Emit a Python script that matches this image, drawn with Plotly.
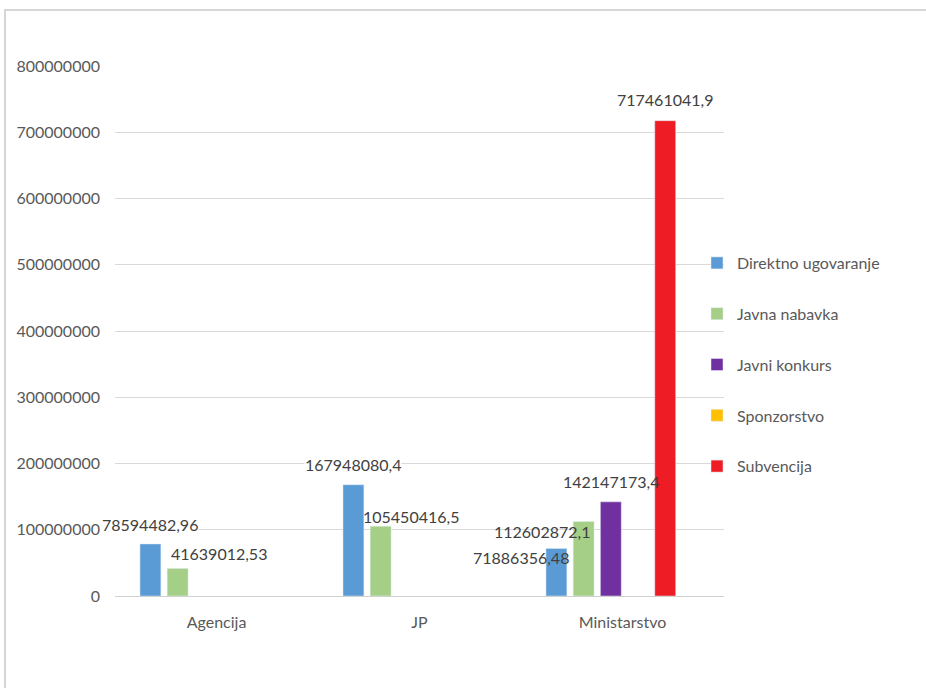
import plotly.graph_objects as go

categories = ["Agencija", "JP", "Ministarstvo"]
series_names = ["Direktno ugovaranje", "Javna nabavka", "Javni konkurs", "Sponzorstvo", "Subvencija"]
direktno = [78594482.96, 167948080.4, 71886356.48]
javna_nabavka = [41639012.53, 105450416.5, 112602872.1]
javni_konkurs = [None, None, 142147173.4]
sponzorstvo = [None, None, None]
subvencija = [None, None, 717461041.9]
y_ticks = [0, 100000000, 200000000, 300000000, 400000000, 500000000, 600000000, 700000000, 800000000]

series_values = [direktno, javna_nabavka, javni_konkurs, sponzorstvo, subvencija]
colors = ["#5B9BD5", "#A5CF86", "#7030A0", "#FFC000", "#EE1C25"]

# bar geometry (style)
first_offset = -0.377
period = 0.134
bar_w = 0.103

# label shifts in px: (series, category) -> (dx, dy, bg)
label_style = {
    (0, 0): (0, 19, "white"),
    (1, 0): (41, 15, "rgba(0,0,0,0)"),
    (0, 1): (0, 20, "white"),
    (1, 1): (30, 10, "rgba(0,0,0,0)"),
    (0, 2): (-35, -9, "rgba(0,0,0,0)"),
    (1, 2): (-42, -10, "rgba(0,0,0,0)"),
    (2, 2): (0, 20, "rgba(0,0,0,0)"),
    (4, 2): (0, 21, "rgba(0,0,0,0)"),
}

FONT = "Lato, Carlito, Calibri, sans-serif"
fig = go.Figure()
annotations = []
for k, (name, vals, col) in enumerate(zip(series_names, series_values, colors)):
    off = first_offset + k * period
    fig.add_trace(go.Bar(
        x=categories, y=vals, name=name, marker_color=col,
        offset=off, width=bar_w, legendgroup=name,
    ))
    for i, v in enumerate(vals):
        if v is None:
            continue
        dx, dy, bg = label_style.get((k, i), (0, 18, "rgba(0,0,0,0)"))
        annotations.append(dict(
            x=i + off + bar_w / 2, y=v, xref="x", yref="y",
            text=str(v).replace(".", ","), showarrow=False,
            xanchor="center", yanchor="middle", xshift=dx, yshift=dy,
            font=dict(family=FONT, size=16, color="#404040"),
            bgcolor=bg, borderpad=0,
        ))

L, R, T, B = 115, 202, 66, 92
W, H = 926, 688
pw, ph = W - L - R, H - T - B

def px_x(p):
    return (p - L) / pw

def px_y(p):
    return (H - B - p) / ph

fig.update_layout(
    width=W, height=H,
    margin=dict(l=L, r=R, t=T, b=B, pad=0),
    paper_bgcolor="white", plot_bgcolor="white",
    barmode="overlay",
    font=dict(family=FONT, size=16, color="#595959"),
    xaxis=dict(
        type="category", range=[-0.5, 2.5], showgrid=False,
        showline=True, linecolor="#D0D0D0", linewidth=1,
        ticks="", tickfont=dict(family=FONT, size=16, color="#595959"),
        ticklabelstandoff=12, fixedrange=True,
    ),
    yaxis=dict(
        range=[0, 800000000], tickvals=y_ticks,
        ticktext=[str(t) for t in y_ticks],
        showgrid=True, gridcolor="#D9D9D9", gridwidth=1,
        zeroline=False, showline=False, ticks="",
        tickfont=dict(family=FONT, size=16, color="#595959"),
        ticklabelstandoff=14, fixedrange=True,
    ),
    legend=dict(
        x=px_x(697), y=px_y(246), xanchor="left", yanchor="top",
        bgcolor="rgba(0,0,0,0)", traceorder="grouped", tracegroupgap=27,
        font=dict(family=FONT, size=16, color="#595959"),
    ),
    annotations=annotations,
    shapes=[dict(
        type="rect", xref="paper", yref="paper",
        x0=px_x(5), x1=px_x(960), y0=px_y(720), y1=px_y(10),
        line=dict(color="#D6D6D6", width=2), layer="below",
    )],
)

fig.write_html("out.html")
